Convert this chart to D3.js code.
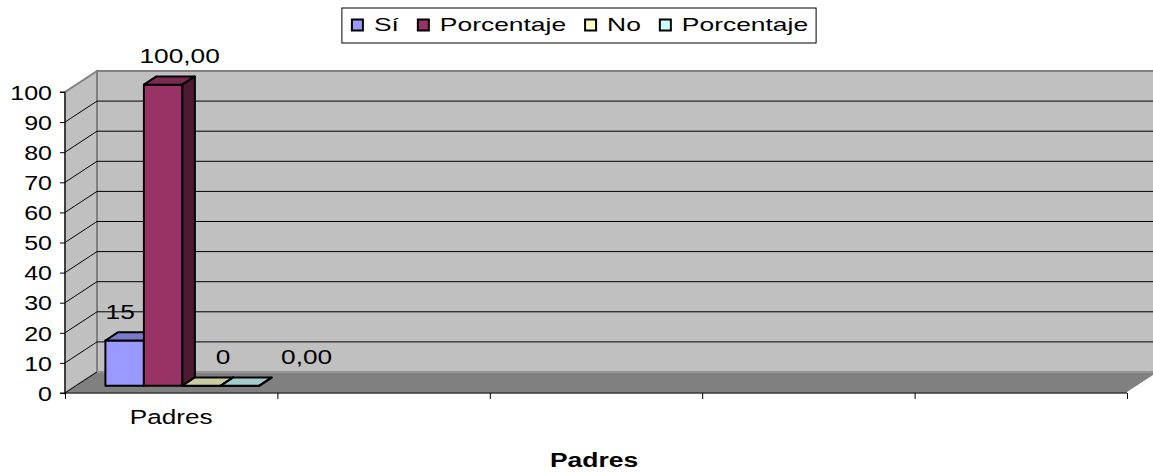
<!DOCTYPE html>
<html>
<head>
<meta charset="utf-8">
<script src="https://cdn.jsdelivr.net/npm/d3@7"></script>
<style>
  body { margin: 0; background: #fff; }
  text { font-family: "Liberation Sans", Arial, sans-serif; fill: #000; }
</style>
</head>
<body>
<div id="chart"></div>
<script>
// data
const categories = ["Padres", "", "", "", ""];
const seriesNames = ["Sí", "Porcentaje", "No", "Porcentaje"];
const siValues = [15];
const siPctValues = [100];
const noValues = [0];
const noPctValues = [0];
const seriesColors = ["#9999FF", "#993366", "#FFFFCC", "#CCFFFF"];
const yTicks = [0, 10, 20, 30, 40, 50, 60, 70, 80, 90, 100];
const axisTitle = "Padres";

const width = 1153, height = 472;
// 3d floor depth, front plane -> back wall
const DX = 32, DY = 21;
const z0 = 0.35, z1 = 0.74;
const labelShift = [-17, 4, 9, 54];

const esLocale = d3.formatLocale({ decimal: ",", thousands: ".", grouping: [3], currency: ["", "€"] });
const fmtInt = esLocale.format("d");
const fmtPct = esLocale.format(".2f");

const series = [
  { name: seriesNames[0], values: siValues, fmt: fmtInt },
  { name: seriesNames[1], values: siPctValues, fmt: fmtPct },
  { name: seriesNames[2], values: noValues, fmt: fmtInt },
  { name: seriesNames[3], values: noPctValues, fmt: fmtPct }
];

const svg = d3.select("#chart").append("svg")
  .attr("width", width)
  .attr("height", height);

svg.append("rect").attr("width", width).attr("height", height).attr("fill", "#fff");

const x0 = 65, x1End = 1127;
const y = d3.scaleLinear().domain([0, 100]).range([393, 92]);
const xb = d3.scaleBand().domain(d3.range(categories.length)).range([x0, x1End]);
const gap = xb.bandwidth() * 0.1375;
const xs = d3.scaleBand().domain(d3.range(series.length)).range([gap, xb.bandwidth() - gap]);

const P = (x, yy, z) => [x + z * DX, yy - z * DY];
const poly = pts => "M" + pts.map(p => p.join(",")).join("L") + "Z";

function stretched(parent, x, yy, str, size, sx, anchor, weight) {
  const g = parent.append("g").attr("transform", `translate(${x},${yy}) scale(${sx},1)`);
  const t = g.append("text")
    .attr("text-anchor", anchor || "start")
    .style("font-size", size + "px")
    .style("font-weight", weight || "normal")
    .text(str);
  return t;
}

// walls
const yTop = y(100), yBot = y(0);
svg.append("path")
  .attr("d", poly([P(x0, yBot, 1), P(x1End, yBot, 1), P(x1End, yTop, 1), P(x0, yTop, 1)]))
  .attr("fill", "#c0c0c0")
  .attr("stroke", "#808080")
  .attr("stroke-width", 2);

svg.append("path")
  .attr("d", poly([P(x0, yBot, 0), P(x0, yTop, 0), P(x0, yTop, 1), P(x0, yBot, 1)]))
  .attr("fill", "#c0c0c0")
  .attr("stroke", "#808080")
  .attr("stroke-width", 2);

// gridlines
const grid = svg.append("g").attr("class", "grid");
yTicks.filter(d => d > 0 && d < 100).forEach(d => {
  const a = P(x0, y(d), 0), b = P(x0, y(d), 1), c = P(x1End, y(d), 1);
  grid.append("path")
    .attr("d", `M${a}L${b}L${c}`)
    .attr("fill", "none")
    .attr("stroke", "#000")
    .attr("stroke-width", 1);
});

// floor
svg.append("path")
  .attr("d", poly([P(x0, yBot, 0), P(x1End, yBot, 0), P(x1End, yBot, 1), P(x0, yBot, 1)]))
  .attr("fill", "#808080")
  .attr("stroke", "#a8a8a8")
  .attr("stroke-width", 1);
svg.append("path")
  .attr("d", `M${P(x1End, yBot, 0)}L${P(x1End, yBot, 1)}`)
  .attr("stroke", "#fff")
  .attr("stroke-width", 1.5);
svg.append("path")
  .attr("d", `M${P(x0, yBot, 0)}L${P(x0, yBot, 1)}`)
  .attr("stroke", "#000")
  .attr("stroke-width", 1);

// bars
const shade = (c, k) => { const r = d3.rgb(c); return d3.rgb(r.r * k, r.g * k, r.b * k).toString(); };
const barsG = svg.append("g").attr("class", "bars");
const labelsG = svg.append("g").attr("class", "labels");
series.forEach((s, si) => {
  s.values.forEach((v, ci) => {
    const xl = xb(ci) + xs(si), xr = xl + xs.bandwidth();
    const yt = y(v);
    const g = barsG.append("g")
      .attr("stroke", "#000")
      .attr("stroke-width", 2)
      .attr("stroke-linejoin", "round");
    g.append("path").attr("fill", seriesColors[si])
      .attr("d", poly([P(xl, yt, z0), P(xr, yt, z0), P(xr, yBot, z0), P(xl, yBot, z0)]));
    g.append("path").attr("fill", shade(seriesColors[si], 0.8))
      .attr("d", poly([P(xl, yt, z0), P(xr, yt, z0), P(xr, yt, z1), P(xl, yt, z1)]));
    g.append("path").attr("fill", shade(seriesColors[si], 0.5))
      .attr("d", poly([P(xr, yt, z0), P(xr, yt, z1), P(xr, yBot, z1), P(xr, yBot, z0)]));

    const lp = P((xl + xr) / 2, yt, z1);
    stretched(labelsG, lp[0] + labelShift[si], lp[1] - 13, s.fmt(v), 21, 1.25, "middle");
  });
});

// y axis
const yAxisG = svg.append("g")
  .attr("transform", `translate(${x0},0)`)
  .call(d3.axisLeft(y).tickValues(yTicks).tickSize(5).tickPadding(0));
yAxisG.select(".domain").attr("stroke", "#000").attr("d", `M-5,${yTop}H0V${yBot}H-5`);
yAxisG.selectAll(".tick line").attr("stroke", "#000");
yAxisG.selectAll(".tick text").remove();
yAxisG.selectAll(".tick").each(function(d) {
  stretched(d3.select(this), -13, 0, d, 20, 1.25, "end")
    .attr("dy", "0.36em");
});

// x axis
const xLin = d3.scaleLinear().domain([0, categories.length]).range([x0, x1End]);
const xAxisG = svg.append("g")
  .attr("transform", `translate(0,${yBot})`)
  .call(d3.axisBottom(xLin).tickValues(d3.range(categories.length + 1)).tickSize(6).tickFormat(""));
xAxisG.select(".domain").attr("stroke", "#000").attr("d", `M${x0},0H${x1End}`);
xAxisG.selectAll(".tick line").attr("stroke", "#000");
categories.forEach((c, i) => {
  if (c) stretched(svg, xb(i) + xb.bandwidth() / 2, 424, c, 19.5, 1.34, "middle");
});

// axis title
stretched(svg, (x0 + x1End) / 2 - 2, 467, axisTitle, 21, 1.26, "middle", "bold");

// legend
const legend = svg.append("g").attr("class", "legend");
const legBox = legend.append("rect")
  .attr("fill", "#fff")
  .attr("stroke", "#000")
  .attr("stroke-width", 1);
const items = legend.append("g");
let cx = 0;
series.forEach((s, si) => {
  items.append("rect")
    .attr("x", cx).attr("y", 19.5)
    .attr("width", 11).attr("height", 11)
    .attr("fill", seriesColors[si])
    .attr("stroke", "#000")
    .attr("stroke-width", 2);
  const t = stretched(items, cx + 22, 31, s.name, 19, 1.39, "start");
  cx += 22 + t.node().getComputedTextLength() * 1.39 + 19;
});
const itemsW = cx - 19;
const boxW = itemsW + 18;
const boxX = width / 2 + 2.5 - boxW / 2;
legBox.attr("x", boxX).attr("y", 8).attr("width", boxW).attr("height", 35);
items.attr("transform", `translate(${boxX + 10},0)`);
</script>
</body>
</html>
